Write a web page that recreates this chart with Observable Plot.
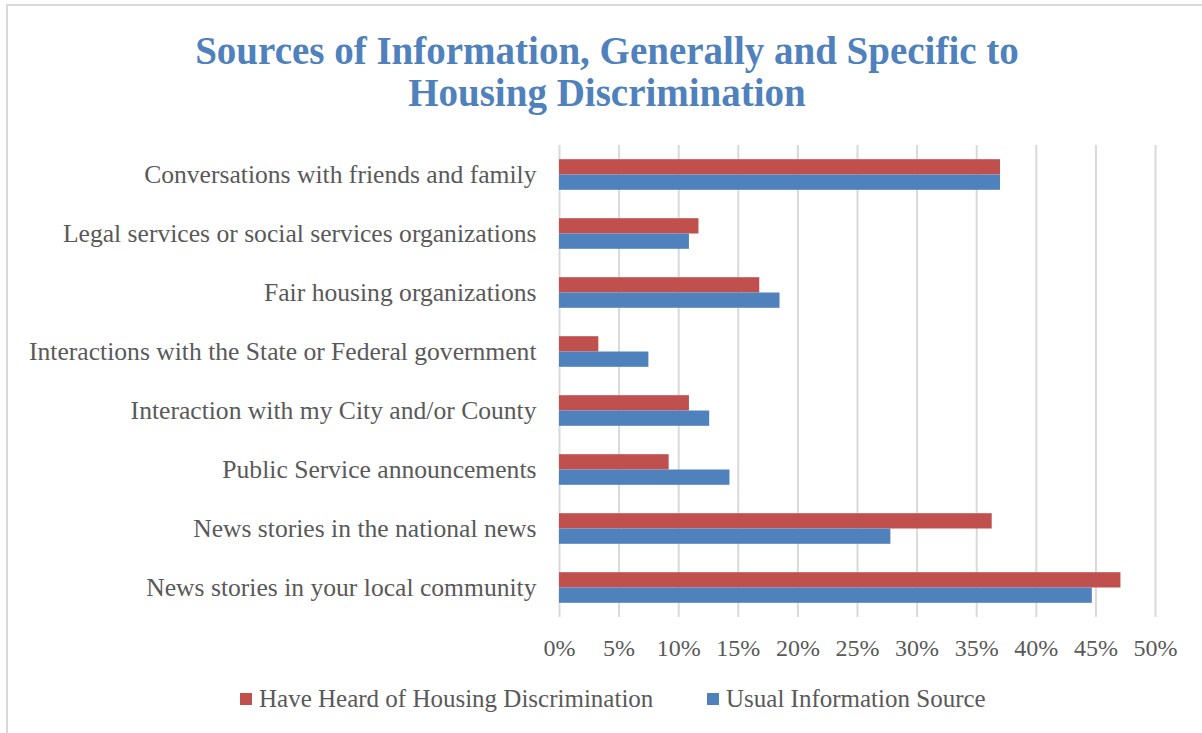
<!DOCTYPE html>
<html>
<head>
<meta charset="utf-8">
<script src="https://cdn.jsdelivr.net/npm/d3@7"></script>
<script src="https://cdn.jsdelivr.net/npm/@observablehq/plot@0.6"></script>
<style>
  html, body { margin: 0; padding: 0; background: #fff; }
  #wrap { position: relative; width: 1202px; height: 733px; overflow: hidden; font-family: "Liberation Serif", serif; }
  #frame { position: absolute; left: 6px; top: 4px; width: 1300px; height: 800px; border-left: 2px solid #d9d9d9; border-top: 2px solid #d9d9d9; box-sizing: border-box; }
  #title { position: absolute; left: 6px; width: 1202px; top: 30px; text-align: center; color: #4F81BD; font-weight: bold; font-size: 39px; line-height: 42px; }
  #chart { position: absolute; left: 0; top: 125px; }
  #legend { position: absolute; top: 686px; left: 0; width: 1202px; height: 26px; font-size: 25px; color: #595959; }
  .item { position: absolute; top: 0; display: flex; align-items: center; height: 26px; white-space: nowrap; }
  .sw { width: 12px; height: 12px; margin-right: 7px; }
</style>
</head>
<body>
<div id="wrap">
  <div id="frame"></div>
  <div id="title">Sources of Information, Generally and Specific to<br>Housing Discrimination</div>
  <div id="chart"></div>
  <div id="legend"></div>
</div>
<script>
const categories = [
  "Conversations with friends and family",
  "Legal services or social services organizations",
  "Fair housing organizations",
  "Interactions with the State or Federal government",
  "Interaction with my City and/or County",
  "Public Service announcements",
  "News stories in the national news",
  "News stories in your local community"
];
const seriesNames = ["Have Heard of Housing Discrimination", "Usual Information Source"];
const heard = [0.37, 0.117, 0.168, 0.033, 0.109, 0.092, 0.363, 0.471];
const usual = [0.37, 0.109, 0.185, 0.075, 0.126, 0.143, 0.278, 0.447];
const xTicks = [0, 0.05, 0.10, 0.15, 0.20, 0.25, 0.30, 0.35, 0.40, 0.45, 0.50];
const xTickLabels = ["0%", "5%", "10%", "15%", "20%", "25%", "30%", "35%", "40%", "45%", "50%"];
const colors = ["#C0504D", "#4F81BD"];

const heardData = categories.map((c, i) => ({category: c, value: heard[i]}));
const usualData = categories.map((c, i) => ({category: c, value: usual[i]}));
const fmt = (d) => xTickLabels[xTicks.findIndex(t => Math.abs(t - d) < 1e-9)];

const chart = Plot.plot({
  width: 1202,
  height: 560,
  marginLeft: 559,
  marginRight: 47,
  marginTop: 20,
  marginBottom: 68,
  style: {fontFamily: "'Liberation Serif', serif", fontSize: "24px", color: "#595959", background: "transparent"},
  x: {domain: [0, 0.5], ticks: xTicks, tickFormat: fmt, tickSize: 0, tickPadding: 21, label: null},
  y: {domain: categories, padding: 0, tickSize: 0, tickPadding: 23, label: null},
  marks: [
    Plot.ruleX(xTicks, {stroke: "#d9d9d9", strokeWidth: 2}),
    Plot.barX(heardData, {x: "value", y: "category", fill: colors[0], insetTop: 14.2, insetBottom: 29.5}),
    Plot.barX(usualData, {x: "value", y: "category", fill: colors[1], insetTop: 29.5, insetBottom: 14.2}),
    Plot.axisX({ticks: xTicks, tickFormat: fmt, tickSize: 0, tickPadding: 21, fontSize: 24, fill: "#595959", label: null}),
    Plot.axisY({tickSize: 0, tickPadding: 23, fontSize: 25.6, fill: "#595959", label: null})
  ]
});
document.getElementById("chart").appendChild(chart);

const legend = document.getElementById("legend");
const legendX = [240, 707];
seriesNames.forEach((name, i) => {
  const item = document.createElement("div");
  item.className = "item";
  item.style.left = legendX[i] + "px";
  const sw = document.createElement("div");
  sw.className = "sw";
  sw.style.background = colors[i];
  const label = document.createElement("span");
  label.textContent = name;
  item.appendChild(sw);
  item.appendChild(label);
  legend.appendChild(item);
});
</script>
</body>
</html>
